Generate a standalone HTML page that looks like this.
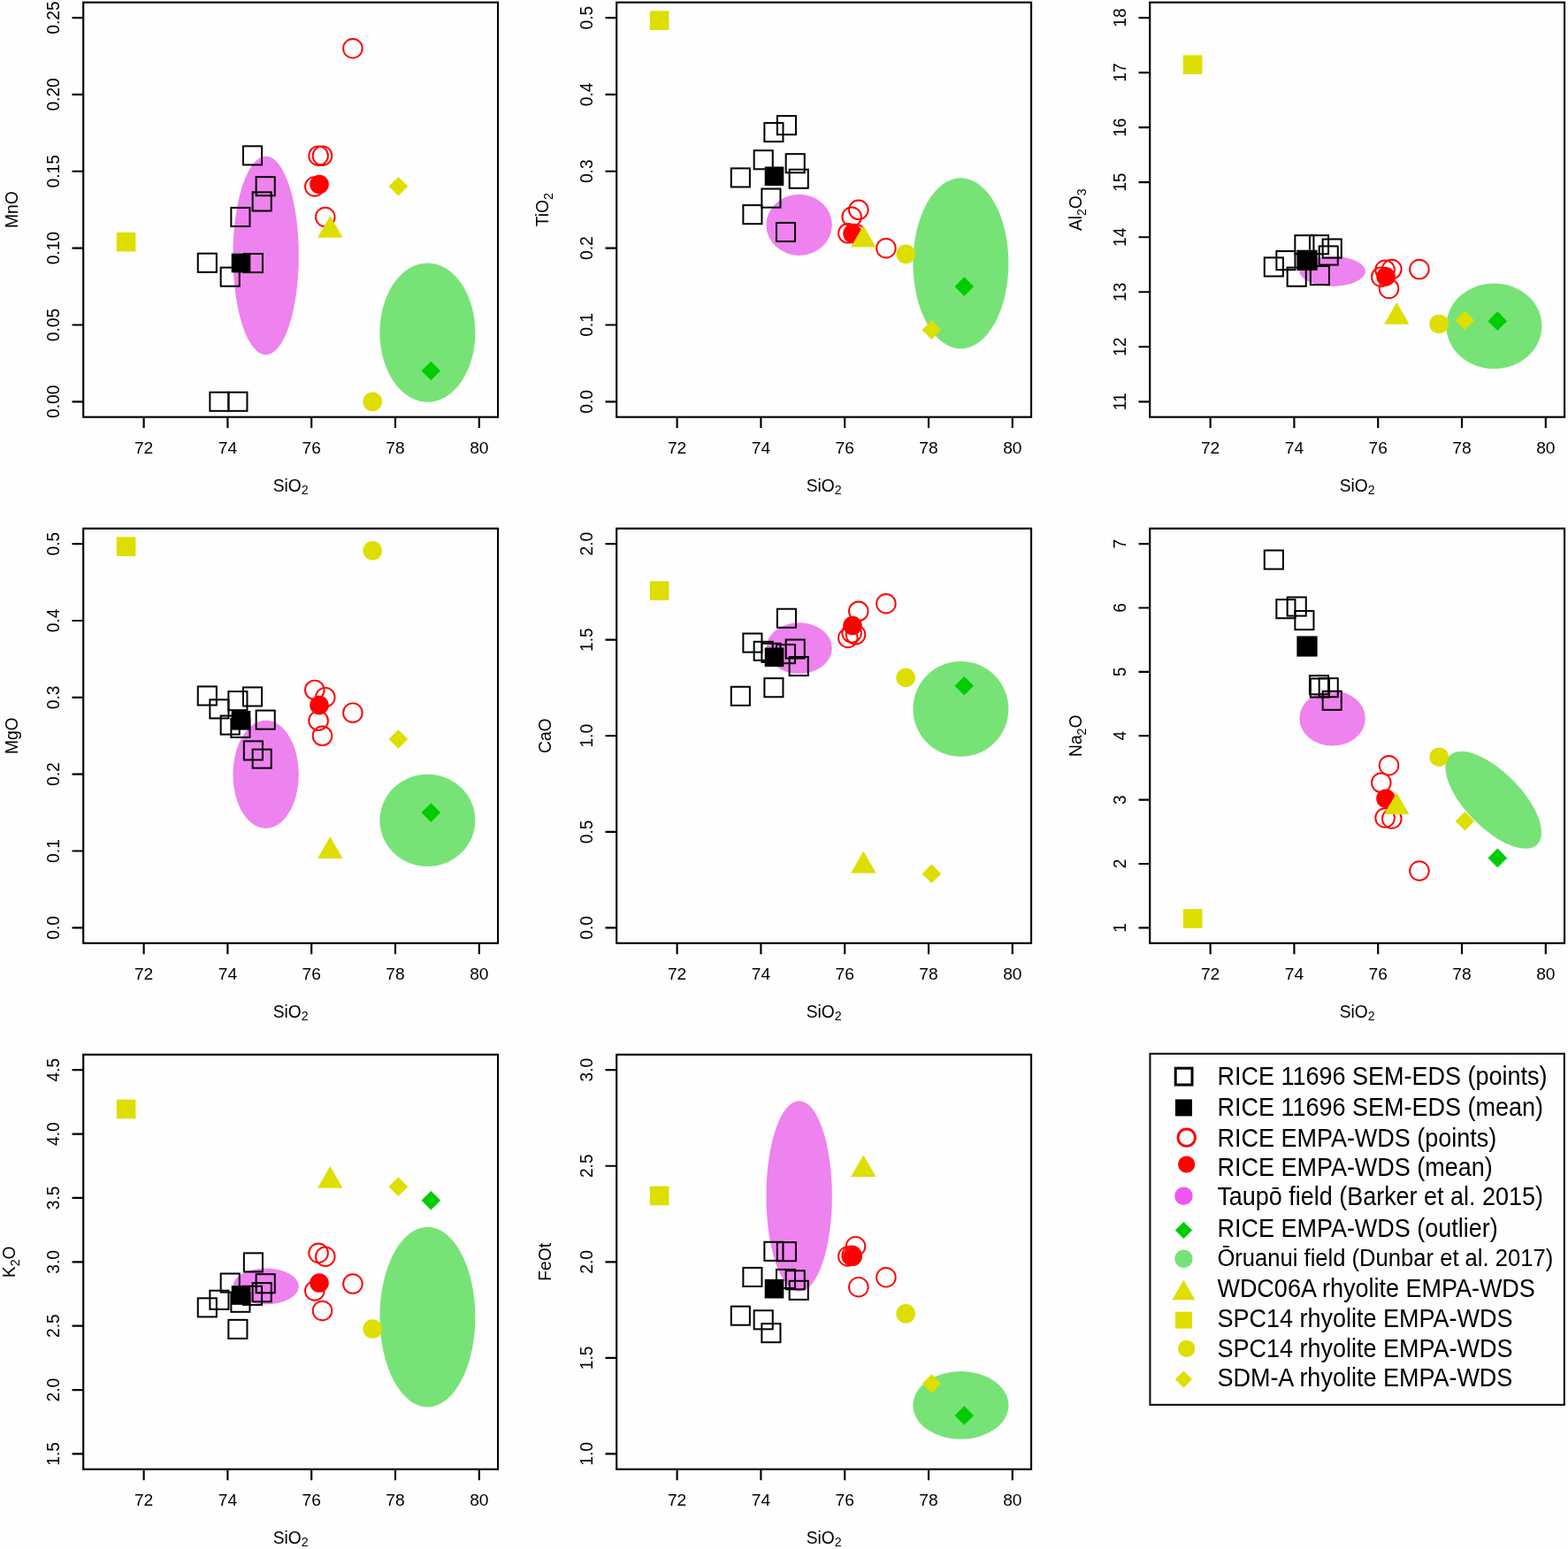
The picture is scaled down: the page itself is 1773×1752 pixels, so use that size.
<!DOCTYPE html>
<html><head><meta charset="utf-8"><title>Glass shard geochemistry</title>
<style>
html,body{margin:0;padding:0;background:#fefefe}
svg{display:block;font-family:"Liberation Sans",Arial,Helvetica,sans-serif;font-size:19.2px;fill:#000}
</style></head><body>
<svg width="1773" height="1752" viewBox="0 0 1773 1752">
<rect x="-20" y="-20" width="1773" height="1752" fill="#fefefe"/>
<g>
<rect x="-20" y="-20" width="1813" height="1792" fill="#fefefe"/>
<g>
<ellipse cx="300.6" cy="289.04" rx="37.2" ry="112.33" fill="#ee82ee"/>
<ellipse cx="483.4" cy="376.16" rx="54" ry="78.63" fill="#77e377"/>
<rect x="94.2" y="2.7" width="468.85" height="469" fill="none" stroke="#000" stroke-width="2.15"/>
<path d="M162.6 471.7v12.4M257.4 471.7v12.4M352.2 471.7v12.4M447 471.7v12.4M541.8 471.7v12.4M94.2 454.33h-12.7M94.2 367.48h-12.7M94.2 280.63h-12.7M94.2 193.77h-12.7M94.2 106.92h-12.7M94.2 20.07h-12.7" stroke="#000" stroke-width="2.15" fill="none"/>
<text transform="translate(162.6 512.85) scale(1.0417 1)" text-anchor="middle" font-size="18.43">72</text>
<text transform="translate(257.4 512.85) scale(1.0417 1)" text-anchor="middle" font-size="18.43">74</text>
<text transform="translate(352.2 512.85) scale(1.0417 1)" text-anchor="middle" font-size="18.43">76</text>
<text transform="translate(447 512.85) scale(1.0417 1)" text-anchor="middle" font-size="18.43">78</text>
<text transform="translate(541.8 512.85) scale(1.0417 1)" text-anchor="middle" font-size="18.43">80</text>
<text transform="translate(66.6 454.33) rotate(-90) scale(0.9709 1)" text-anchor="middle" font-size="19.78">0.00</text>
<text transform="translate(66.6 367.48) rotate(-90) scale(0.9709 1)" text-anchor="middle" font-size="19.78">0.05</text>
<text transform="translate(66.6 280.63) rotate(-90) scale(0.9709 1)" text-anchor="middle" font-size="19.78">0.10</text>
<text transform="translate(66.6 193.77) rotate(-90) scale(0.9709 1)" text-anchor="middle" font-size="19.78">0.15</text>
<text transform="translate(66.6 106.92) rotate(-90) scale(0.9709 1)" text-anchor="middle" font-size="19.78">0.20</text>
<text transform="translate(66.6 20.07) rotate(-90) scale(0.9709 1)" text-anchor="middle" font-size="19.78">0.25</text>
<text transform="translate(328.62 555.9) scale(0.9259 1)" text-anchor="middle" font-size="20.74"><tspan>SiO</tspan><tspan dy="3.07" font-size="15.34">2</tspan></text>
<text transform="translate(19.7 237.2) rotate(-90) scale(0.9709 1)" text-anchor="middle" font-size="19.78"><tspan>MnO</tspan></text>
<rect x="223.75" y="286.71" width="21.1" height="21.1" fill="none" stroke="#000" stroke-width="2"/>
<rect x="237.35" y="443.7" width="21.1" height="21.1" fill="none" stroke="#000" stroke-width="2"/>
<rect x="249.65" y="302.6" width="21.1" height="21.1" fill="none" stroke="#000" stroke-width="2"/>
<rect x="258.35" y="443.7" width="21.1" height="21.1" fill="none" stroke="#000" stroke-width="2"/>
<rect x="261.35" y="234.93" width="21.1" height="21.1" fill="none" stroke="#000" stroke-width="2"/>
<rect x="274.95" y="165.34" width="21.1" height="21.1" fill="none" stroke="#000" stroke-width="2"/>
<rect x="275.85" y="286.98" width="21.1" height="21.1" fill="none" stroke="#000" stroke-width="2"/>
<rect x="285.65" y="217.4" width="21.1" height="21.1" fill="none" stroke="#000" stroke-width="2"/>
<rect x="289.65" y="200.13" width="21.1" height="21.1" fill="none" stroke="#000" stroke-width="2"/>
<rect x="261.7" y="286.73" width="21.6" height="21.6" fill="#000"/>
<circle cx="355.8" cy="210.96" r="10.8" fill="none" stroke="#ff0000" stroke-width="1.9"/>
<circle cx="360.1" cy="176.16" r="10.8" fill="none" stroke="#ff0000" stroke-width="1.9"/>
<circle cx="364.5" cy="176.16" r="10.8" fill="none" stroke="#ff0000" stroke-width="1.9"/>
<circle cx="367.8" cy="245.48" r="10.8" fill="none" stroke="#ff0000" stroke-width="1.9"/>
<circle cx="398.9" cy="54.79" r="10.8" fill="none" stroke="#ff0000" stroke-width="1.9"/>
<circle cx="361" cy="208.49" r="10.8" fill="#ff0000"/>
<path d="M476.5 419.45L487.3 408.65L498.1 419.45L487.3 430.25Z" fill="#00cd00"/>
<path d="M373.3 244.06L387.5 268.66L359.1 268.66Z" fill="#dede00"/>
<rect x="131.8" y="262.9" width="21.6" height="21.6" fill="#dede00"/>
<circle cx="421.2" cy="454.25" r="10.8" fill="#dede00"/>
<path d="M439.6 210.68L450.4 199.88L461.2 210.68L450.4 221.48Z" fill="#dede00"/>
</g>
<g>
<ellipse cx="903.6" cy="254.41" rx="37.2" ry="34.59" fill="#ee82ee"/>
<ellipse cx="1086.4" cy="297.78" rx="54" ry="96.5" fill="#77e377"/>
<rect x="697.2" y="2.7" width="468.85" height="469" fill="none" stroke="#000" stroke-width="2.15"/>
<path d="M765.6 471.7v12.4M860.4 471.7v12.4M955.2 471.7v12.4M1050 471.7v12.4M1144.8 471.7v12.4M697.2 454.33h-12.7M697.2 367.48h-12.7M697.2 280.63h-12.7M697.2 193.77h-12.7M697.2 106.92h-12.7M697.2 20.07h-12.7" stroke="#000" stroke-width="2.15" fill="none"/>
<text transform="translate(765.6 512.85) scale(1.0417 1)" text-anchor="middle" font-size="18.43">72</text>
<text transform="translate(860.4 512.85) scale(1.0417 1)" text-anchor="middle" font-size="18.43">74</text>
<text transform="translate(955.2 512.85) scale(1.0417 1)" text-anchor="middle" font-size="18.43">76</text>
<text transform="translate(1050 512.85) scale(1.0417 1)" text-anchor="middle" font-size="18.43">78</text>
<text transform="translate(1144.8 512.85) scale(1.0417 1)" text-anchor="middle" font-size="18.43">80</text>
<text transform="translate(669.6 454.33) rotate(-90) scale(0.9709 1)" text-anchor="middle" font-size="19.78">0.0</text>
<text transform="translate(669.6 367.48) rotate(-90) scale(0.9709 1)" text-anchor="middle" font-size="19.78">0.1</text>
<text transform="translate(669.6 280.63) rotate(-90) scale(0.9709 1)" text-anchor="middle" font-size="19.78">0.2</text>
<text transform="translate(669.6 193.77) rotate(-90) scale(0.9709 1)" text-anchor="middle" font-size="19.78">0.3</text>
<text transform="translate(669.6 106.92) rotate(-90) scale(0.9709 1)" text-anchor="middle" font-size="19.78">0.4</text>
<text transform="translate(669.6 20.07) rotate(-90) scale(0.9709 1)" text-anchor="middle" font-size="19.78">0.5</text>
<text transform="translate(931.62 555.9) scale(0.9259 1)" text-anchor="middle" font-size="20.74"><tspan>SiO</tspan><tspan dy="3.07" font-size="15.34">2</tspan></text>
<text transform="translate(620.3 237.2) rotate(-90) scale(0.9709 1)" text-anchor="middle" font-size="19.78"><tspan>TiO</tspan><tspan dy="4.22" font-size="14.63">2</tspan></text>
<rect x="826.75" y="190.4" width="21.1" height="21.1" fill="none" stroke="#000" stroke-width="2"/>
<rect x="840.35" y="232.11" width="21.1" height="21.1" fill="none" stroke="#000" stroke-width="2"/>
<rect x="852.65" y="170.2" width="21.1" height="21.1" fill="none" stroke="#000" stroke-width="2"/>
<rect x="861.35" y="213.57" width="21.1" height="21.1" fill="none" stroke="#000" stroke-width="2"/>
<rect x="864.35" y="139.08" width="21.1" height="21.1" fill="none" stroke="#000" stroke-width="2"/>
<rect x="877.95" y="251.97" width="21.1" height="21.1" fill="none" stroke="#000" stroke-width="2"/>
<rect x="878.85" y="131.14" width="21.1" height="21.1" fill="none" stroke="#000" stroke-width="2"/>
<rect x="888.65" y="174.18" width="21.1" height="21.1" fill="none" stroke="#000" stroke-width="2"/>
<rect x="892.65" y="191.72" width="21.1" height="21.1" fill="none" stroke="#000" stroke-width="2"/>
<rect x="864.7" y="188.49" width="21.6" height="21.6" fill="#000"/>
<circle cx="958.8" cy="263.85" r="10.8" fill="none" stroke="#ff0000" stroke-width="1.9"/>
<circle cx="963.1" cy="245.31" r="10.8" fill="none" stroke="#ff0000" stroke-width="1.9"/>
<circle cx="967.5" cy="264.51" r="10.8" fill="none" stroke="#ff0000" stroke-width="1.9"/>
<circle cx="970.8" cy="237.36" r="10.8" fill="none" stroke="#ff0000" stroke-width="1.9"/>
<circle cx="1001.9" cy="280.73" r="10.8" fill="none" stroke="#ff0000" stroke-width="1.9"/>
<circle cx="964" cy="264.18" r="10.8" fill="#ff0000"/>
<path d="M1079.5 324.1L1090.3 313.3L1101.1 324.1L1090.3 334.9Z" fill="#00cd00"/>
<path d="M976.3 254.97L990.5 279.57L962.1 279.57Z" fill="#dede00"/>
<rect x="734.8" y="12.37" width="21.6" height="21.6" fill="#dede00"/>
<circle cx="1024.2" cy="287.35" r="10.8" fill="#dede00"/>
<path d="M1042.6 373.09L1053.4 362.29L1064.2 373.09L1053.4 383.89Z" fill="#dede00"/>
</g>
<g>
<ellipse cx="1506.6" cy="306.88" rx="37.2" ry="16.88" fill="#ee82ee"/>
<ellipse cx="1689.4" cy="368.79" rx="54" ry="48.33" fill="#77e377"/>
<rect x="1300.2" y="2.7" width="468.85" height="469" fill="none" stroke="#000" stroke-width="2.15"/>
<path d="M1368.6 471.7v12.4M1463.4 471.7v12.4M1558.2 471.7v12.4M1653 471.7v12.4M1747.8 471.7v12.4M1300.2 454.33h-12.7M1300.2 392.29h-12.7M1300.2 330.26h-12.7M1300.2 268.22h-12.7M1300.2 206.18h-12.7M1300.2 144.14h-12.7M1300.2 82.11h-12.7M1300.2 20.07h-12.7" stroke="#000" stroke-width="2.15" fill="none"/>
<text transform="translate(1368.6 512.85) scale(1.0417 1)" text-anchor="middle" font-size="18.43">72</text>
<text transform="translate(1463.4 512.85) scale(1.0417 1)" text-anchor="middle" font-size="18.43">74</text>
<text transform="translate(1558.2 512.85) scale(1.0417 1)" text-anchor="middle" font-size="18.43">76</text>
<text transform="translate(1653 512.85) scale(1.0417 1)" text-anchor="middle" font-size="18.43">78</text>
<text transform="translate(1747.8 512.85) scale(1.0417 1)" text-anchor="middle" font-size="18.43">80</text>
<text transform="translate(1272.6 454.33) rotate(-90) scale(0.9709 1)" text-anchor="middle" font-size="19.78">11</text>
<text transform="translate(1272.6 392.29) rotate(-90) scale(0.9709 1)" text-anchor="middle" font-size="19.78">12</text>
<text transform="translate(1272.6 330.26) rotate(-90) scale(0.9709 1)" text-anchor="middle" font-size="19.78">13</text>
<text transform="translate(1272.6 268.22) rotate(-90) scale(0.9709 1)" text-anchor="middle" font-size="19.78">14</text>
<text transform="translate(1272.6 206.18) rotate(-90) scale(0.9709 1)" text-anchor="middle" font-size="19.78">15</text>
<text transform="translate(1272.6 144.14) rotate(-90) scale(0.9709 1)" text-anchor="middle" font-size="19.78">16</text>
<text transform="translate(1272.6 82.11) rotate(-90) scale(0.9709 1)" text-anchor="middle" font-size="19.78">17</text>
<text transform="translate(1272.6 20.07) rotate(-90) scale(0.9709 1)" text-anchor="middle" font-size="19.78">18</text>
<text transform="translate(1534.62 555.9) scale(0.9259 1)" text-anchor="middle" font-size="20.74"><tspan>SiO</tspan><tspan dy="3.07" font-size="15.34">2</tspan></text>
<text transform="translate(1223.3 237.2) rotate(-90) scale(0.9709 1)" text-anchor="middle" font-size="19.78"><tspan>Al</tspan><tspan dy="4.22" font-size="14.63">2</tspan><tspan dy="-4.22" font-size="19.78">O</tspan><tspan dy="4.22" font-size="14.63">3</tspan></text>
<rect x="1429.75" y="291.37" width="21.1" height="21.1" fill="none" stroke="#000" stroke-width="2"/>
<rect x="1443.35" y="284.08" width="21.1" height="21.1" fill="none" stroke="#000" stroke-width="2"/>
<rect x="1455.65" y="302.62" width="21.1" height="21.1" fill="none" stroke="#000" stroke-width="2"/>
<rect x="1464.35" y="266.21" width="21.1" height="21.1" fill="none" stroke="#000" stroke-width="2"/>
<rect x="1467.35" y="283.75" width="21.1" height="21.1" fill="none" stroke="#000" stroke-width="2"/>
<rect x="1480.95" y="266.21" width="21.1" height="21.1" fill="none" stroke="#000" stroke-width="2"/>
<rect x="1481.85" y="300.97" width="21.1" height="21.1" fill="none" stroke="#000" stroke-width="2"/>
<rect x="1491.65" y="278.46" width="21.1" height="21.1" fill="none" stroke="#000" stroke-width="2"/>
<rect x="1495.65" y="270.51" width="21.1" height="21.1" fill="none" stroke="#000" stroke-width="2"/>
<rect x="1467.7" y="283.67" width="21.6" height="21.6" fill="#000"/>
<circle cx="1561.8" cy="313.17" r="10.8" fill="none" stroke="#ff0000" stroke-width="1.9"/>
<circle cx="1566.1" cy="305.23" r="10.8" fill="none" stroke="#ff0000" stroke-width="1.9"/>
<circle cx="1570.5" cy="326.41" r="10.8" fill="none" stroke="#ff0000" stroke-width="1.9"/>
<circle cx="1573.8" cy="304.57" r="10.8" fill="none" stroke="#ff0000" stroke-width="1.9"/>
<circle cx="1604.9" cy="304.57" r="10.8" fill="none" stroke="#ff0000" stroke-width="1.9"/>
<circle cx="1567" cy="312.84" r="10.8" fill="#ff0000"/>
<path d="M1682.5 363.16L1693.3 352.36L1704.1 363.16L1693.3 373.96Z" fill="#00cd00"/>
<path d="M1579.3 342.04L1593.5 366.64L1565.1 366.64Z" fill="#dede00"/>
<rect x="1337.8" y="62.36" width="21.6" height="21.6" fill="#dede00"/>
<circle cx="1627.2" cy="366.47" r="10.8" fill="#dede00"/>
<path d="M1645.6 362.5L1656.4 351.7L1667.2 362.5L1656.4 373.3Z" fill="#dede00"/>
</g>
<g>
<ellipse cx="300.6" cy="875.9" rx="37.2" ry="61.08" fill="#ee82ee"/>
<ellipse cx="483.4" cy="927.87" rx="54" ry="52.14" fill="#77e377"/>
<rect x="94.2" y="597.75" width="468.85" height="469" fill="none" stroke="#000" stroke-width="2.15"/>
<path d="M162.6 1066.75v12.4M257.4 1066.75v12.4M352.2 1066.75v12.4M447 1066.75v12.4M541.8 1066.75v12.4M94.2 1049.38h-12.7M94.2 962.53h-12.7M94.2 875.68h-12.7M94.2 788.82h-12.7M94.2 701.97h-12.7M94.2 615.12h-12.7" stroke="#000" stroke-width="2.15" fill="none"/>
<text transform="translate(162.6 1107.9) scale(1.0417 1)" text-anchor="middle" font-size="18.43">72</text>
<text transform="translate(257.4 1107.9) scale(1.0417 1)" text-anchor="middle" font-size="18.43">74</text>
<text transform="translate(352.2 1107.9) scale(1.0417 1)" text-anchor="middle" font-size="18.43">76</text>
<text transform="translate(447 1107.9) scale(1.0417 1)" text-anchor="middle" font-size="18.43">78</text>
<text transform="translate(541.8 1107.9) scale(1.0417 1)" text-anchor="middle" font-size="18.43">80</text>
<text transform="translate(66.6 1049.38) rotate(-90) scale(0.9709 1)" text-anchor="middle" font-size="19.78">0.0</text>
<text transform="translate(66.6 962.53) rotate(-90) scale(0.9709 1)" text-anchor="middle" font-size="19.78">0.1</text>
<text transform="translate(66.6 875.68) rotate(-90) scale(0.9709 1)" text-anchor="middle" font-size="19.78">0.2</text>
<text transform="translate(66.6 788.82) rotate(-90) scale(0.9709 1)" text-anchor="middle" font-size="19.78">0.3</text>
<text transform="translate(66.6 701.97) rotate(-90) scale(0.9709 1)" text-anchor="middle" font-size="19.78">0.4</text>
<text transform="translate(66.6 615.12) rotate(-90) scale(0.9709 1)" text-anchor="middle" font-size="19.78">0.5</text>
<text transform="translate(328.62 1150.95) scale(0.9259 1)" text-anchor="middle" font-size="20.74"><tspan>SiO</tspan><tspan dy="3.07" font-size="15.34">2</tspan></text>
<text transform="translate(19.7 832.25) rotate(-90) scale(0.9709 1)" text-anchor="middle" font-size="19.78"><tspan>MgO</tspan></text>
<rect x="223.75" y="776.46" width="21.1" height="21.1" fill="none" stroke="#000" stroke-width="2"/>
<rect x="237.35" y="791.36" width="21.1" height="21.1" fill="none" stroke="#000" stroke-width="2"/>
<rect x="249.65" y="809.56" width="21.1" height="21.1" fill="none" stroke="#000" stroke-width="2"/>
<rect x="258.35" y="782.09" width="21.1" height="21.1" fill="none" stroke="#000" stroke-width="2"/>
<rect x="261.35" y="812.87" width="21.1" height="21.1" fill="none" stroke="#000" stroke-width="2"/>
<rect x="274.95" y="777.45" width="21.1" height="21.1" fill="none" stroke="#000" stroke-width="2"/>
<rect x="275.85" y="838.36" width="21.1" height="21.1" fill="none" stroke="#000" stroke-width="2"/>
<rect x="285.65" y="847.63" width="21.1" height="21.1" fill="none" stroke="#000" stroke-width="2"/>
<rect x="289.65" y="803.6" width="21.1" height="21.1" fill="none" stroke="#000" stroke-width="2"/>
<rect x="261.7" y="804.02" width="21.6" height="21.6" fill="#000"/>
<circle cx="355.8" cy="780.39" r="10.8" fill="none" stroke="#ff0000" stroke-width="1.9"/>
<circle cx="360.1" cy="815.15" r="10.8" fill="none" stroke="#ff0000" stroke-width="1.9"/>
<circle cx="364.5" cy="832.36" r="10.8" fill="none" stroke="#ff0000" stroke-width="1.9"/>
<circle cx="367.8" cy="788.66" r="10.8" fill="none" stroke="#ff0000" stroke-width="1.9"/>
<circle cx="398.9" cy="806.21" r="10.8" fill="none" stroke="#ff0000" stroke-width="1.9"/>
<circle cx="361" cy="797.6" r="10.8" fill="#ff0000"/>
<path d="M476.5 919.1L487.3 908.3L498.1 919.1L487.3 929.9Z" fill="#00cd00"/>
<path d="M373.3 946.31L387.5 970.91L359.1 970.91Z" fill="#dede00"/>
<rect x="131.8" y="607.37" width="21.6" height="21.6" fill="#dede00"/>
<circle cx="421.2" cy="622.81" r="10.8" fill="#dede00"/>
<path d="M439.6 836L450.4 825.2L461.2 836L450.4 846.8Z" fill="#dede00"/>
</g>
<g>
<ellipse cx="903.6" cy="733.05" rx="37.2" ry="28.8" fill="#ee82ee"/>
<ellipse cx="1086.4" cy="801.91" rx="54" ry="53.96" fill="#77e377"/>
<rect x="697.2" y="597.75" width="468.85" height="469" fill="none" stroke="#000" stroke-width="2.15"/>
<path d="M765.6 1066.75v12.4M860.4 1066.75v12.4M955.2 1066.75v12.4M1050 1066.75v12.4M1144.8 1066.75v12.4M697.2 1049.38h-12.7M697.2 940.82h-12.7M697.2 832.25h-12.7M697.2 723.69h-12.7M697.2 615.12h-12.7" stroke="#000" stroke-width="2.15" fill="none"/>
<text transform="translate(765.6 1107.9) scale(1.0417 1)" text-anchor="middle" font-size="18.43">72</text>
<text transform="translate(860.4 1107.9) scale(1.0417 1)" text-anchor="middle" font-size="18.43">74</text>
<text transform="translate(955.2 1107.9) scale(1.0417 1)" text-anchor="middle" font-size="18.43">76</text>
<text transform="translate(1050 1107.9) scale(1.0417 1)" text-anchor="middle" font-size="18.43">78</text>
<text transform="translate(1144.8 1107.9) scale(1.0417 1)" text-anchor="middle" font-size="18.43">80</text>
<text transform="translate(669.6 1049.38) rotate(-90) scale(0.9709 1)" text-anchor="middle" font-size="19.78">0.0</text>
<text transform="translate(669.6 940.82) rotate(-90) scale(0.9709 1)" text-anchor="middle" font-size="19.78">0.5</text>
<text transform="translate(669.6 832.25) rotate(-90) scale(0.9709 1)" text-anchor="middle" font-size="19.78">1.0</text>
<text transform="translate(669.6 723.69) rotate(-90) scale(0.9709 1)" text-anchor="middle" font-size="19.78">1.5</text>
<text transform="translate(669.6 615.12) rotate(-90) scale(0.9709 1)" text-anchor="middle" font-size="19.78">2.0</text>
<text transform="translate(931.62 1150.95) scale(0.9259 1)" text-anchor="middle" font-size="20.74"><tspan>SiO</tspan><tspan dy="3.07" font-size="15.34">2</tspan></text>
<text transform="translate(622.7 832.25) rotate(-90) scale(0.9709 1)" text-anchor="middle" font-size="19.78"><tspan>CaO</tspan></text>
<rect x="826.75" y="776.79" width="21.1" height="21.1" fill="none" stroke="#000" stroke-width="2"/>
<rect x="840.35" y="716.54" width="21.1" height="21.1" fill="none" stroke="#000" stroke-width="2"/>
<rect x="852.65" y="725.81" width="21.1" height="21.1" fill="none" stroke="#000" stroke-width="2"/>
<rect x="861.35" y="727.79" width="21.1" height="21.1" fill="none" stroke="#000" stroke-width="2"/>
<rect x="864.35" y="767.19" width="21.1" height="21.1" fill="none" stroke="#000" stroke-width="2"/>
<rect x="877.95" y="729.12" width="21.1" height="21.1" fill="none" stroke="#000" stroke-width="2"/>
<rect x="878.85" y="688.73" width="21.1" height="21.1" fill="none" stroke="#000" stroke-width="2"/>
<rect x="888.65" y="723.49" width="21.1" height="21.1" fill="none" stroke="#000" stroke-width="2"/>
<rect x="892.65" y="743.02" width="21.1" height="21.1" fill="none" stroke="#000" stroke-width="2"/>
<rect x="864.7" y="732.51" width="21.6" height="21.6" fill="#000"/>
<circle cx="958.8" cy="721.46" r="10.8" fill="none" stroke="#ff0000" stroke-width="1.9"/>
<circle cx="963.1" cy="715.83" r="10.8" fill="none" stroke="#ff0000" stroke-width="1.9"/>
<circle cx="967.5" cy="717.82" r="10.8" fill="none" stroke="#ff0000" stroke-width="1.9"/>
<circle cx="970.8" cy="691.34" r="10.8" fill="none" stroke="#ff0000" stroke-width="1.9"/>
<circle cx="1001.9" cy="682.73" r="10.8" fill="none" stroke="#ff0000" stroke-width="1.9"/>
<circle cx="964" cy="707.56" r="10.8" fill="#ff0000"/>
<path d="M1079.5 775.75L1090.3 764.95L1101.1 775.75L1090.3 786.55Z" fill="#00cd00"/>
<path d="M976.3 962.86L990.5 987.46L962.1 987.46Z" fill="#dede00"/>
<rect x="734.8" y="657.36" width="21.6" height="21.6" fill="#dede00"/>
<circle cx="1024.2" cy="766.48" r="10.8" fill="#dede00"/>
<path d="M1042.6 988.29L1053.4 977.49L1064.2 988.29L1053.4 999.09Z" fill="#dede00"/>
</g>
<g>
<ellipse cx="1506.6" cy="812.5" rx="37.2" ry="31.12" fill="#ee82ee"/>
<ellipse cx="0" cy="0" rx="70.6" ry="31.4" fill="#77e377" transform="translate(1688.67 904.83) rotate(45.5)"/>
<rect x="1300.2" y="597.75" width="468.85" height="469" fill="none" stroke="#000" stroke-width="2.15"/>
<path d="M1368.6 1066.75v12.4M1463.4 1066.75v12.4M1558.2 1066.75v12.4M1653 1066.75v12.4M1747.8 1066.75v12.4M1300.2 1049.38h-12.7M1300.2 977h-12.7M1300.2 904.63h-12.7M1300.2 832.25h-12.7M1300.2 759.87h-12.7M1300.2 687.5h-12.7M1300.2 615.12h-12.7" stroke="#000" stroke-width="2.15" fill="none"/>
<text transform="translate(1368.6 1107.9) scale(1.0417 1)" text-anchor="middle" font-size="18.43">72</text>
<text transform="translate(1463.4 1107.9) scale(1.0417 1)" text-anchor="middle" font-size="18.43">74</text>
<text transform="translate(1558.2 1107.9) scale(1.0417 1)" text-anchor="middle" font-size="18.43">76</text>
<text transform="translate(1653 1107.9) scale(1.0417 1)" text-anchor="middle" font-size="18.43">78</text>
<text transform="translate(1747.8 1107.9) scale(1.0417 1)" text-anchor="middle" font-size="18.43">80</text>
<text transform="translate(1272.6 1049.38) rotate(-90) scale(0.9709 1)" text-anchor="middle" font-size="19.78">1</text>
<text transform="translate(1272.6 977) rotate(-90) scale(0.9709 1)" text-anchor="middle" font-size="19.78">2</text>
<text transform="translate(1272.6 904.63) rotate(-90) scale(0.9709 1)" text-anchor="middle" font-size="19.78">3</text>
<text transform="translate(1272.6 832.25) rotate(-90) scale(0.9709 1)" text-anchor="middle" font-size="19.78">4</text>
<text transform="translate(1272.6 759.87) rotate(-90) scale(0.9709 1)" text-anchor="middle" font-size="19.78">5</text>
<text transform="translate(1272.6 687.5) rotate(-90) scale(0.9709 1)" text-anchor="middle" font-size="19.78">6</text>
<text transform="translate(1272.6 615.12) rotate(-90) scale(0.9709 1)" text-anchor="middle" font-size="19.78">7</text>
<text transform="translate(1534.62 1150.95) scale(0.9259 1)" text-anchor="middle" font-size="20.74"><tspan>SiO</tspan><tspan dy="3.07" font-size="15.34">2</tspan></text>
<text transform="translate(1223.3 832.25) rotate(-90) scale(0.9709 1)" text-anchor="middle" font-size="19.78"><tspan>Na</tspan><tspan dy="4.22" font-size="14.63">2</tspan><tspan dy="-4.22" font-size="19.78">O</tspan></text>
<rect x="1429.75" y="622.52" width="21.1" height="21.1" fill="none" stroke="#000" stroke-width="2"/>
<rect x="1443.35" y="678.14" width="21.1" height="21.1" fill="none" stroke="#000" stroke-width="2"/>
<rect x="1455.65" y="675.49" width="21.1" height="21.1" fill="none" stroke="#000" stroke-width="2"/>
<rect x="1464.35" y="691.05" width="21.1" height="21.1" fill="none" stroke="#000" stroke-width="2"/>
<rect x="1467.35" y="720.51" width="21.1" height="21.1" fill="none" stroke="#000" stroke-width="2"/>
<rect x="1480.95" y="764.21" width="21.1" height="21.1" fill="none" stroke="#000" stroke-width="2"/>
<rect x="1481.85" y="767.52" width="21.1" height="21.1" fill="none" stroke="#000" stroke-width="2"/>
<rect x="1491.65" y="767.19" width="21.1" height="21.1" fill="none" stroke="#000" stroke-width="2"/>
<rect x="1495.65" y="781.76" width="21.1" height="21.1" fill="none" stroke="#000" stroke-width="2"/>
<rect x="1467.7" y="719.93" width="21.6" height="21.6" fill="#000"/>
<circle cx="1561.8" cy="885.33" r="10.8" fill="none" stroke="#ff0000" stroke-width="1.9"/>
<circle cx="1566.1" cy="925.06" r="10.8" fill="none" stroke="#ff0000" stroke-width="1.9"/>
<circle cx="1570.5" cy="865.8" r="10.8" fill="none" stroke="#ff0000" stroke-width="1.9"/>
<circle cx="1573.8" cy="926.05" r="10.8" fill="none" stroke="#ff0000" stroke-width="1.9"/>
<circle cx="1604.9" cy="984.98" r="10.8" fill="none" stroke="#ff0000" stroke-width="1.9"/>
<circle cx="1567" cy="903.21" r="10.8" fill="#ff0000"/>
<path d="M1682.5 970.41L1693.3 959.61L1704.1 970.41L1693.3 981.21Z" fill="#00cd00"/>
<path d="M1579.3 896.48L1593.5 921.08L1565.1 921.08Z" fill="#dede00"/>
<rect x="1337.8" y="1028.14" width="21.6" height="21.6" fill="#dede00"/>
<circle cx="1627.2" cy="856.2" r="10.8" fill="#dede00"/>
<path d="M1645.6 928.7L1656.4 917.9L1667.2 928.7L1656.4 939.5Z" fill="#dede00"/>
</g>
<g>
<ellipse cx="300.6" cy="1454.88" rx="37.2" ry="20.36" fill="#ee82ee"/>
<ellipse cx="483.4" cy="1489.64" rx="54" ry="101.8" fill="#77e377"/>
<rect x="94.2" y="1192.8" width="468.85" height="469" fill="none" stroke="#000" stroke-width="2.15"/>
<path d="M162.6 1661.8v12.4M257.4 1661.8v12.4M352.2 1661.8v12.4M447 1661.8v12.4M541.8 1661.8v12.4M94.2 1644.43h-12.7M94.2 1572.05h-12.7M94.2 1499.68h-12.7M94.2 1427.3h-12.7M94.2 1354.92h-12.7M94.2 1282.55h-12.7M94.2 1210.17h-12.7" stroke="#000" stroke-width="2.15" fill="none"/>
<text transform="translate(162.6 1702.95) scale(1.0417 1)" text-anchor="middle" font-size="18.43">72</text>
<text transform="translate(257.4 1702.95) scale(1.0417 1)" text-anchor="middle" font-size="18.43">74</text>
<text transform="translate(352.2 1702.95) scale(1.0417 1)" text-anchor="middle" font-size="18.43">76</text>
<text transform="translate(447 1702.95) scale(1.0417 1)" text-anchor="middle" font-size="18.43">78</text>
<text transform="translate(541.8 1702.95) scale(1.0417 1)" text-anchor="middle" font-size="18.43">80</text>
<text transform="translate(66.6 1644.43) rotate(-90) scale(0.9709 1)" text-anchor="middle" font-size="19.78">1.5</text>
<text transform="translate(66.6 1572.05) rotate(-90) scale(0.9709 1)" text-anchor="middle" font-size="19.78">2.0</text>
<text transform="translate(66.6 1499.68) rotate(-90) scale(0.9709 1)" text-anchor="middle" font-size="19.78">2.5</text>
<text transform="translate(66.6 1427.3) rotate(-90) scale(0.9709 1)" text-anchor="middle" font-size="19.78">3.0</text>
<text transform="translate(66.6 1354.92) rotate(-90) scale(0.9709 1)" text-anchor="middle" font-size="19.78">3.5</text>
<text transform="translate(66.6 1282.55) rotate(-90) scale(0.9709 1)" text-anchor="middle" font-size="19.78">4.0</text>
<text transform="translate(66.6 1210.17) rotate(-90) scale(0.9709 1)" text-anchor="middle" font-size="19.78">4.5</text>
<text transform="translate(328.62 1746) scale(0.9259 1)" text-anchor="middle" font-size="20.74"><tspan>SiO</tspan><tspan dy="3.07" font-size="15.34">2</tspan></text>
<text transform="translate(17.3 1427.3) rotate(-90) scale(0.9709 1)" text-anchor="middle" font-size="19.78"><tspan>K</tspan><tspan dy="4.22" font-size="14.63">2</tspan><tspan dy="-4.22" font-size="19.78">O</tspan></text>
<rect x="223.75" y="1468.33" width="21.1" height="21.1" fill="none" stroke="#000" stroke-width="2"/>
<rect x="237.35" y="1459.73" width="21.1" height="21.1" fill="none" stroke="#000" stroke-width="2"/>
<rect x="249.65" y="1440.52" width="21.1" height="21.1" fill="none" stroke="#000" stroke-width="2"/>
<rect x="258.35" y="1492.83" width="21.1" height="21.1" fill="none" stroke="#000" stroke-width="2"/>
<rect x="261.35" y="1462.7" width="21.1" height="21.1" fill="none" stroke="#000" stroke-width="2"/>
<rect x="274.95" y="1454.76" width="21.1" height="21.1" fill="none" stroke="#000" stroke-width="2"/>
<rect x="275.85" y="1417.35" width="21.1" height="21.1" fill="none" stroke="#000" stroke-width="2"/>
<rect x="285.65" y="1451.12" width="21.1" height="21.1" fill="none" stroke="#000" stroke-width="2"/>
<rect x="289.65" y="1441.19" width="21.1" height="21.1" fill="none" stroke="#000" stroke-width="2"/>
<rect x="261.7" y="1454.18" width="21.6" height="21.6" fill="#000"/>
<circle cx="355.8" cy="1460.01" r="10.8" fill="none" stroke="#ff0000" stroke-width="1.9"/>
<circle cx="360.1" cy="1417.31" r="10.8" fill="none" stroke="#ff0000" stroke-width="1.9"/>
<circle cx="364.5" cy="1482.52" r="10.8" fill="none" stroke="#ff0000" stroke-width="1.9"/>
<circle cx="367.8" cy="1421.28" r="10.8" fill="none" stroke="#ff0000" stroke-width="1.9"/>
<circle cx="398.9" cy="1452.07" r="10.8" fill="none" stroke="#ff0000" stroke-width="1.9"/>
<circle cx="361" cy="1451.07" r="10.8" fill="#ff0000"/>
<path d="M476.5 1357.72L487.3 1346.92L498.1 1357.72L487.3 1368.52Z" fill="#00cd00"/>
<path d="M373.3 1319.05L387.5 1343.65L359.1 1343.65Z" fill="#dede00"/>
<rect x="131.8" y="1243.63" width="21.6" height="21.6" fill="#dede00"/>
<circle cx="421.2" cy="1503.05" r="10.8" fill="#dede00"/>
<path d="M439.6 1342.16L450.4 1331.36L461.2 1342.16L450.4 1352.96Z" fill="#dede00"/>
</g>
<g>
<ellipse cx="903.6" cy="1352.92" rx="37.2" ry="107.76" fill="#ee82ee"/>
<ellipse cx="1086.4" cy="1589.45" rx="54" ry="38.4" fill="#77e377"/>
<rect x="697.2" y="1192.8" width="468.85" height="469" fill="none" stroke="#000" stroke-width="2.15"/>
<path d="M765.6 1661.8v12.4M860.4 1661.8v12.4M955.2 1661.8v12.4M1050 1661.8v12.4M1144.8 1661.8v12.4M697.2 1644.43h-12.7M697.2 1535.87h-12.7M697.2 1427.3h-12.7M697.2 1318.74h-12.7M697.2 1210.17h-12.7" stroke="#000" stroke-width="2.15" fill="none"/>
<text transform="translate(765.6 1702.95) scale(1.0417 1)" text-anchor="middle" font-size="18.43">72</text>
<text transform="translate(860.4 1702.95) scale(1.0417 1)" text-anchor="middle" font-size="18.43">74</text>
<text transform="translate(955.2 1702.95) scale(1.0417 1)" text-anchor="middle" font-size="18.43">76</text>
<text transform="translate(1050 1702.95) scale(1.0417 1)" text-anchor="middle" font-size="18.43">78</text>
<text transform="translate(1144.8 1702.95) scale(1.0417 1)" text-anchor="middle" font-size="18.43">80</text>
<text transform="translate(669.6 1644.43) rotate(-90) scale(0.9709 1)" text-anchor="middle" font-size="19.78">1.0</text>
<text transform="translate(669.6 1535.87) rotate(-90) scale(0.9709 1)" text-anchor="middle" font-size="19.78">1.5</text>
<text transform="translate(669.6 1427.3) rotate(-90) scale(0.9709 1)" text-anchor="middle" font-size="19.78">2.0</text>
<text transform="translate(669.6 1318.74) rotate(-90) scale(0.9709 1)" text-anchor="middle" font-size="19.78">2.5</text>
<text transform="translate(669.6 1210.17) rotate(-90) scale(0.9709 1)" text-anchor="middle" font-size="19.78">3.0</text>
<text transform="translate(931.62 1746) scale(0.9259 1)" text-anchor="middle" font-size="20.74"><tspan>SiO</tspan><tspan dy="3.07" font-size="15.34">2</tspan></text>
<text transform="translate(622.7 1427.3) rotate(-90) scale(0.9709 1)" text-anchor="middle" font-size="19.78"><tspan>FeOt</tspan></text>
<rect x="826.75" y="1477.6" width="21.1" height="21.1" fill="none" stroke="#000" stroke-width="2"/>
<rect x="840.35" y="1433.9" width="21.1" height="21.1" fill="none" stroke="#000" stroke-width="2"/>
<rect x="852.65" y="1482.24" width="21.1" height="21.1" fill="none" stroke="#000" stroke-width="2"/>
<rect x="861.35" y="1497.13" width="21.1" height="21.1" fill="none" stroke="#000" stroke-width="2"/>
<rect x="864.35" y="1404.77" width="21.1" height="21.1" fill="none" stroke="#000" stroke-width="2"/>
<rect x="877.95" y="1435.89" width="21.1" height="21.1" fill="none" stroke="#000" stroke-width="2"/>
<rect x="878.85" y="1405.1" width="21.1" height="21.1" fill="none" stroke="#000" stroke-width="2"/>
<rect x="888.65" y="1437.21" width="21.1" height="21.1" fill="none" stroke="#000" stroke-width="2"/>
<rect x="892.65" y="1448.8" width="21.1" height="21.1" fill="none" stroke="#000" stroke-width="2"/>
<rect x="864.7" y="1446.9" width="21.6" height="21.6" fill="#000"/>
<circle cx="958.8" cy="1420.95" r="10.8" fill="none" stroke="#ff0000" stroke-width="1.9"/>
<circle cx="963.1" cy="1420.29" r="10.8" fill="none" stroke="#ff0000" stroke-width="1.9"/>
<circle cx="967.5" cy="1409.69" r="10.8" fill="none" stroke="#ff0000" stroke-width="1.9"/>
<circle cx="970.8" cy="1455.71" r="10.8" fill="none" stroke="#ff0000" stroke-width="1.9"/>
<circle cx="1001.9" cy="1444.78" r="10.8" fill="none" stroke="#ff0000" stroke-width="1.9"/>
<circle cx="964" cy="1421.28" r="10.8" fill="#ff0000"/>
<path d="M1079.5 1601.04L1090.3 1590.24L1101.1 1601.04L1090.3 1611.84Z" fill="#00cd00"/>
<path d="M976.3 1306.47L990.5 1331.07L962.1 1331.07Z" fill="#dede00"/>
<rect x="734.8" y="1341.62" width="21.6" height="21.6" fill="#dede00"/>
<circle cx="1024.2" cy="1485.83" r="10.8" fill="#dede00"/>
<path d="M1042.6 1564.96L1053.4 1554.16L1064.2 1564.96L1053.4 1575.76Z" fill="#dede00"/>
</g>
<g>
<rect x="1300.4" y="1191.8" width="468.4" height="397.1" fill="none" stroke="#111" stroke-width="2.1"/>
<rect x="1329.2" y="1208.2" width="18.8" height="18.8" fill="none" stroke="#000" stroke-width="3"/>
<text transform="translate(1376.4 1227.1) scale(0.9346 1)" font-size="28.89">RICE 11696 SEM-EDS (points)</text>
<rect x="1328.9" y="1243.4" width="19" height="19" fill="#000"/>
<text transform="translate(1376.4 1262.4) scale(0.9346 1)" font-size="28.89">RICE 11696 SEM-EDS (mean)</text>
<circle cx="1341.7" cy="1286.7" r="9.7" fill="none" stroke="#ff0000" stroke-width="2.8"/>
<text transform="translate(1376.4 1297.2) scale(0.9346 1)" font-size="28.89">RICE EMPA-WDS (points)</text>
<circle cx="1341.6" cy="1317" r="9.6" fill="#ff0000"/>
<text transform="translate(1376.4 1329.5) scale(0.9346 1)" font-size="28.89">RICE EMPA-WDS (mean)</text>
<circle cx="1338.4" cy="1352.75" r="10.2" fill="#ee55ee"/>
<text transform="translate(1376.4 1363.4) scale(0.9346 1)" font-size="28.84">Taupō field (Barker et al. 2015)</text>
<path d="M1328.8 1391.5L1338.4 1381.9L1348 1391.5L1338.4 1401.1Z" fill="#00cd00"/>
<text transform="translate(1376.4 1398.8) scale(0.9346 1)" font-size="28.89">RICE EMPA-WDS (outlier)</text>
<circle cx="1338.4" cy="1423.7" r="10.2" fill="#77e377"/>
<text transform="translate(1376.4 1432.2) scale(0.9346 1)" font-size="27.39">Ōruanui field (Dunbar et al. 2017)</text>
<path d="M1338.4 1447.7L1351.39 1470.2L1325.41 1470.2Z" fill="#dede00"/>
<text transform="translate(1376.4 1467.2) scale(0.9346 1)" font-size="28.89">WDC06A rhyolite EMPA-WDS</text>
<rect x="1328.9" y="1483.7" width="19" height="19" fill="#dede00"/>
<text transform="translate(1376.4 1501.1) scale(0.9346 1)" font-size="28.89">SPC14 rhyolite EMPA-WDS</text>
<circle cx="1341.6" cy="1525.4" r="9.6" fill="#dede00"/>
<text transform="translate(1376.4 1534.6) scale(0.9346 1)" font-size="28.89">SPC14 rhyolite EMPA-WDS</text>
<path d="M1328.8 1560.1L1338.4 1550.5L1348 1560.1L1338.4 1569.7Z" fill="#dede00"/>
<text transform="translate(1376.4 1567.7) scale(0.9346 1)" font-size="28.89">SDM-A rhyolite EMPA-WDS</text>
</g>
</g>
</svg>
</body></html>
